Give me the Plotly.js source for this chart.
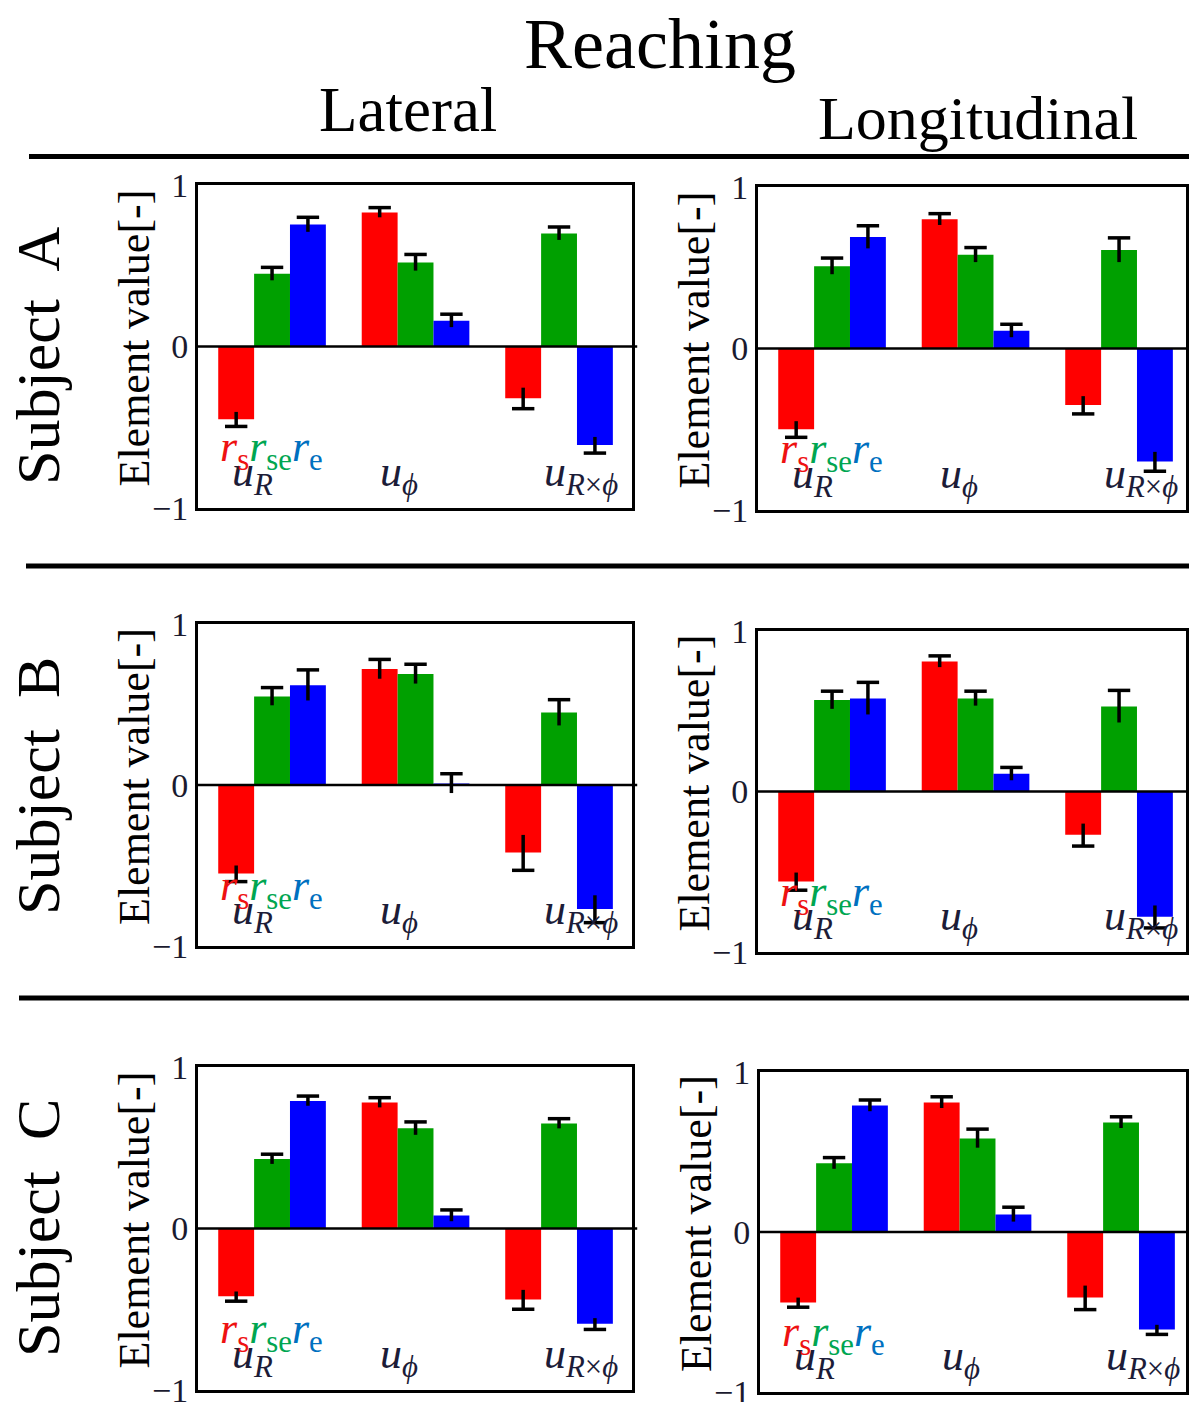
<!DOCTYPE html>
<html>
<head>
<meta charset="utf-8">
<script src="https://cdn.plot.ly/plotly-3.0.1.min.js"></script>
<style>html,body{margin:0;padding:0;background:#fff;}</style>
</head>
<body>
<div id="chart" style="width:1189px;height:1402px;"></div>
<script>
// Element values of the reaching synergies; rows: r_s, r_se, r_e ; columns: u_R, u_phi, u_RxPhi
const groupLabels = ['<i>u</i><sub><i>R</i></sub>', '<i>u</i><sub><i>ϕ</i></sub>', '<i>u</i><sub><i>R</i>×<i>ϕ</i></sub>'];
const seriesNames = ['r_s', 'r_se', 'r_e'];
const rowTitles = ['Subject\u00A0 A', 'Subject\u00A0 B', 'Subject\u00A0 C'];
const colTitles = ['Lateral', 'Longitudinal'];

const subjectA_lateral      = [[-0.45, 0.83, -0.32], [0.45, 0.52, 0.70], [0.755, 0.16, -0.61]];
const subjectA_lateral_sd   = [[0.045, 0.03, 0.065], [0.04, 0.05, 0.04], [0.045, 0.04, 0.05]];
const subjectA_longitud     = [[-0.50, 0.80, -0.35], [0.51, 0.58, 0.61], [0.69, 0.11, -0.70]];
const subjectA_longitud_sd  = [[0.05, 0.035, 0.055], [0.05, 0.045, 0.075], [0.07, 0.04, 0.06]];
const subjectB_lateral      = [[-0.55, 0.72, -0.42], [0.55, 0.69, 0.45], [0.62, 0.01, -0.77]];
const subjectB_lateral_sd   = [[0.05, 0.06, 0.11], [0.055, 0.06, 0.08], [0.095, 0.06, 0.085]];
const subjectB_longitud     = [[-0.56, 0.81, -0.27], [0.57, 0.58, 0.53], [0.58, 0.11, -0.78]];
const subjectB_longitud_sd  = [[0.055, 0.035, 0.07], [0.055, 0.045, 0.10], [0.10, 0.04, 0.07]];
const subjectC_lateral      = [[-0.42, 0.78, -0.44], [0.43, 0.62, 0.65], [0.79, 0.08, -0.59]];
const subjectC_lateral_sd   = [[0.03, 0.03, 0.06], [0.03, 0.04, 0.03], [0.03, 0.035, 0.035]];
const subjectC_longitud     = [[-0.44, 0.81, -0.41], [0.43, 0.585, 0.685], [0.79, 0.11, -0.61]];
const subjectC_longitud_sd  = [[0.03, 0.035, 0.075], [0.035, 0.058, 0.035], [0.035, 0.045, 0.03]];

const W = 1189, H = 1402;
const px = v => v / W;
const py = v => 1 - v / H;

const barColors = ['#ff0000', '#00a000', '#0000ff'];
const legendColors = ['#ee1111', '#00a651', '#0070c0'];
const serif = '"Liberation Serif", "Times New Roman", Times, serif';

// panel boxes in pixels: [left, right, top, bottom]
const panels = [
  {mean: subjectA_lateral, sd: subjectA_lateral_sd, box: [198, 632, 185, 508]},
  {mean: subjectA_longitud, sd: subjectA_longitud_sd, box: [758, 1186, 187, 510]},
  {mean: subjectB_lateral, sd: subjectB_lateral_sd, box: [198, 632, 624, 946]},
  {mean: subjectB_longitud, sd: subjectB_longitud_sd, box: [758, 1186, 631, 952]},
  {mean: subjectC_lateral, sd: subjectC_lateral_sd, box: [198, 632, 1067, 1390]},
  {mean: subjectC_longitud, sd: subjectC_longitud_sd, box: [760, 1186, 1072, 1392]}
];

const barW = 0.25;          // width of one bar in category units
const groupPx = 143.5;      // pixel distance between category centres
const leftPad = 0.516;      // space left of the first category, category units

const traces = [];
const annotations = [];
const layout = {
  width: W, height: H, autosize: false,
  margin: {l: 0, r: 0, t: 0, b: 0},
  paper_bgcolor: '#ffffff', plot_bgcolor: '#ffffff',
  showlegend: false,
  font: {family: serif, color: '#111'},
  annotations: annotations,
  shapes: []
};

panels.forEach((p, pi) => {
  const n = pi + 1;
  const xs = n === 1 ? '' : String(n);
  const xa = 'x' + xs, ya = 'y' + xs;
  const [x0, x1, y0, y1] = p.box;

  layout['xaxis' + xs] = {
    domain: [px(x0), px(x1)],
    range: [-leftPad, -leftPad + (x1 - x0) / groupPx],
    anchor: ya, showline: true, mirror: true, linewidth: 3, linecolor: '#000',
    showticklabels: false, ticks: '', showgrid: false, zeroline: false, fixedrange: true
  };
  layout['yaxis' + xs] = {
    domain: [py(y1), py(y0)],
    range: [-1, 1],
    anchor: xa, showline: true, mirror: true, linewidth: 3, linecolor: '#000',
    tickvals: [-1, 0, 1], ticktext: ['\u22121', '0', '1'], ticks: '',
    ticklabeloverflow: 'allow',
    tickfont: {family: serif, size: 34, color: '#1a1a2e'},
    showgrid: false, zeroline: false, fixedrange: true
  };

  // zero line, running a little past the right frame
  layout.shapes.push({type: 'line', xref: xa + ' domain', yref: ya, x0: 0, x1: 1.012, y0: 0, y1: 0,
    line: {color: '#000', width: 2.5}, layer: 'above'});

  p.mean.forEach((vals, k) => {
    const xpos = vals.map((v, i) => i + (k - 1) * barW);
    traces.push({
      type: 'bar', xaxis: xa, yaxis: ya, name: seriesNames[k],
      x: xpos, y: vals, width: barW,
      marker: {color: barColors[k], line: {width: 0}},
      error_y: {type: 'data', array: p.sd[k], visible: true, color: '#000', thickness: 3.5, width: 0},
      hoverinfo: 'skip'
    });
    // cap on the outer end of each error bar
    traces.push({
      type: 'scatter', mode: 'markers', xaxis: xa, yaxis: ya,
      x: xpos, y: vals.map((v, i) => v + Math.sign(v) * p.sd[k][i]),
      marker: {symbol: 'line-ew', size: 16, color: '#000', line: {width: 3.5, color: '#000'}},
      hoverinfo: 'skip'
    });
  });

  // group labels inside the plot
  const labelX = [-0.29, 0.74, 1.88];
  groupLabels.forEach((t, i) => {
    annotations.push({
      xref: xa, yref: ya, x: labelX[i], y: -0.79, xanchor: 'left', yanchor: 'middle',
      text: t, showarrow: false, font: {family: serif, size: 44, color: '#1c1c38'}
    });
  });

  // colour key for the three series
  annotations.push({
    xref: xa, yref: ya, x: -0.38, y: -0.64, xanchor: 'left', yanchor: 'middle', showarrow: false,
    text: '<span style="color:' + legendColors[0] + '"><i>r</i><sub>s</sub></span>' +
          '<span style="color:' + legendColors[1] + '"><i>r</i><sub>se</sub></span>' +
          '<span style="color:' + legendColors[2] + '"><i>r</i><sub>e</sub></span>',
    font: {family: serif, size: 44, color: legendColors[0]}
  });

  // y axis title
  annotations.push({
    xref: 'paper', yref: 'paper', x: px(x0 - 64), y: py((y0 + y1) / 2 - 8),
    xanchor: 'center', yanchor: 'middle', textangle: -90, showarrow: false,
    text: 'Element value[-]', font: {family: serif, size: 44, color: '#000'}
  });
});

// headers
annotations.push({xref: 'paper', yref: 'paper', x: px(660), y: py(44), xanchor: 'center', yanchor: 'middle',
  showarrow: false, text: 'Reaching', font: {family: serif, size: 72, color: '#000'}});
annotations.push({xref: 'paper', yref: 'paper', x: px(408), y: py(110), xanchor: 'center', yanchor: 'middle',
  showarrow: false, text: colTitles[0], font: {family: serif, size: 63, color: '#000'}});
annotations.push({xref: 'paper', yref: 'paper', x: px(978), y: py(118), xanchor: 'center', yanchor: 'middle',
  showarrow: false, text: colTitles[1], font: {family: serif, size: 62, color: '#000'}});
const rowCentres = [356, 786, 1228];
rowTitles.forEach((t, i) => {
  annotations.push({xref: 'paper', yref: 'paper', x: px(38), y: py(rowCentres[i]), xanchor: 'center', yanchor: 'middle',
    textangle: -90, showarrow: false, text: t, font: {family: serif, size: 62, color: '#000'}});
});

// separating rules
[[29, 156.5], [26, 566], [19, 998]].forEach(([xs, yy]) => {
  layout.shapes.push({type: 'line', xref: 'paper', yref: 'paper', x0: px(xs), x1: 1, y0: py(yy), y1: py(yy),
    line: {color: '#000', width: 5}});
});

Plotly.newPlot('chart', traces, layout, {staticPlot: true, displayModeBar: false});
</script>
</body>
</html>
